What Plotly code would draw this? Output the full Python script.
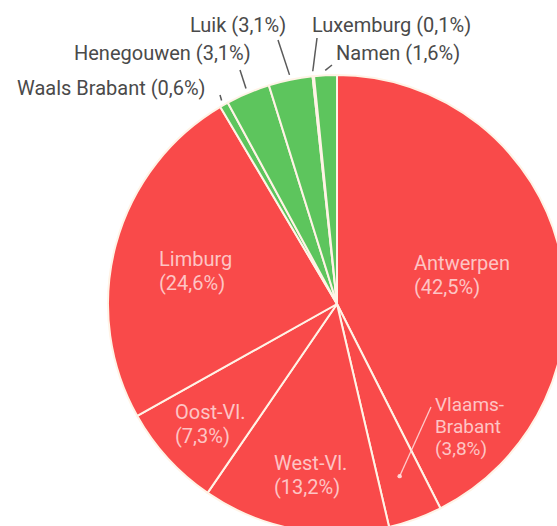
import math
import plotly.graph_objects as go

# ---------------- data ----------------
provinces = ["Antwerpen", "Vlaams-Brabant", "West-Vl.", "Oost-Vl.", "Limburg",
             "Waals Brabant", "Henegouwen", "Luik", "Luxemburg", "Namen"]
shares = [42.5, 3.8, 13.2, 7.3, 24.6, 0.6, 3.1, 3.1, 0.1, 1.6]
share_labels = ["42,5%", "3,8%", "13,2%", "7,3%", "24,6%", "0,6%", "3,1%", "3,1%", "0,1%", "1,6%"]
region = ["VL", "VL", "VL", "VL", "VL", "WA", "WA", "WA", "WA", "WA"]

# ---------------- style / layout ----------------
W, H = 580, 545          # figure larger than window so pie is clipped like the reference
CX, CY, R = 337, 304, 229  # pie centre / radius in pixels
RED = "#F94A4A"
GREEN = "#5DC55D"
EDGE = "#FFF3E6"
INNER_TXT = "rgba(255,232,232,0.78)"
OUTER_TXT = "#4A4A4A"
FONT = "Roboto"

def px(x):
    return x / W

def py(y):
    return 1 - y / H

fig = go.Figure(go.Pie(
    labels=provinces,
    values=shares,
    sort=False,
    direction="clockwise",
    rotation=0,
    marker=dict(colors=[RED if r == "VL" else GREEN for r in region],
                line=dict(color=EDGE, width=2)),
    textinfo="none",
    hoverinfo="label+percent",
    showlegend=False,
    domain=dict(x=[px(CX - R), px(CX + R)], y=[py(CY + R), py(CY - R)]),
))

# slice mid angles (degrees clockwise from 12 o'clock), from data
total = sum(shares)
mids = []
acc = 0.0
for v in shares:
    mids.append((acc + v / 2) / total * 360)
    acc += v

def polar(angle_deg, r):
    a = math.radians(angle_deg)
    return CX + r * math.sin(a), CY - r * math.cos(a)

# label placement (layout positions, pixels): (left x, centre y of first line, line gap, font size)
inner_pos = {"Antwerpen": (412, 263, 24, 20), "Vlaams-Brabant": (433, 404, 22, 19),
             "West-Vl.": (272, 463, 24, 20), "Oost-Vl.": (173, 412, 23.5, 20),
             "Limburg": (157, 259, 24, 20)}
outer_pos = {"Waals Brabant": (15, 88), "Henegouwen": (72, 53), "Luik": (188, 25),
             "Luxemburg": (310, 25), "Namen": (334, 53)}
# outer end of leader lines (pixels)
leader_end = {"Waals Brabant": (220, 95), "Henegouwen": (240, 70), "Luik": (278, 40),
              "Luxemburg": (317, 38), "Namen": (332, 65)}

annotations = []
shapes = []
for i, name in enumerate(provinces):
    if name in inner_pos:
        x, y, gap, fs = inner_pos[name]
        lines = ["Vlaams-", "Brabant"] if name == "Vlaams-Brabant" else [name]
        lines = lines + [f"({share_labels[i]})"]
        for k, ln in enumerate(lines):
            annotations.append(dict(
                x=px(x), y=py(y + k * gap), xref="paper", yref="paper",
                xanchor="left", yanchor="middle", showarrow=False, text=ln,
                font=dict(family=FONT, size=fs, color=INNER_TXT)))
    else:
        x, y = outer_pos[name]
        annotations.append(dict(
            x=px(x), y=py(y), xref="paper", yref="paper", xanchor="left", yanchor="middle",
            showarrow=False, text=f"{name} ({share_labels[i]})",
            font=dict(family=FONT, size=20, color=OUTER_TXT)))
        x0, y0 = polar(mids[i], R + 5)
        x1, y1 = leader_end[name]
        shapes.append(dict(type="line", xref="paper", yref="paper",
                           x0=px(x0), y0=py(y0), x1=px(x1), y1=py(y1),
                           line=dict(color="#5A5A5A", width=1.5)))

# Vlaams-Brabant pointer: dot inside its slice, line up to the label
vb = provinces.index("Vlaams-Brabant")
dx, dy = polar(mids[vb], R * 0.80)
shapes.append(dict(type="line", xref="paper", yref="paper",
                   x0=px(dx), y0=py(dy), x1=px(431), y1=py(407),
                   line=dict(color="rgba(255,225,225,0.85)", width=1.3)))
shapes.append(dict(type="circle", xref="paper", yref="paper",
                   x0=px(dx - 2.2), x1=px(dx + 2.2), y0=py(dy + 2.2), y1=py(dy - 2.2),
                   fillcolor="rgba(255,225,225,0.9)", line=dict(width=0)))

fig.update_layout(
    width=W, height=H,
    margin=dict(l=0, r=0, t=0, b=0),
    paper_bgcolor="white",
    plot_bgcolor="white",
    annotations=annotations,
    shapes=shapes,
)

fig.write_html(
    "out.html",
    config={"displayModeBar": False},
    post_script=("document.body.style.margin='0';"
                 "document.body.style.overflow='hidden';"
                 "document.documentElement.style.overflow='hidden';"),
)
